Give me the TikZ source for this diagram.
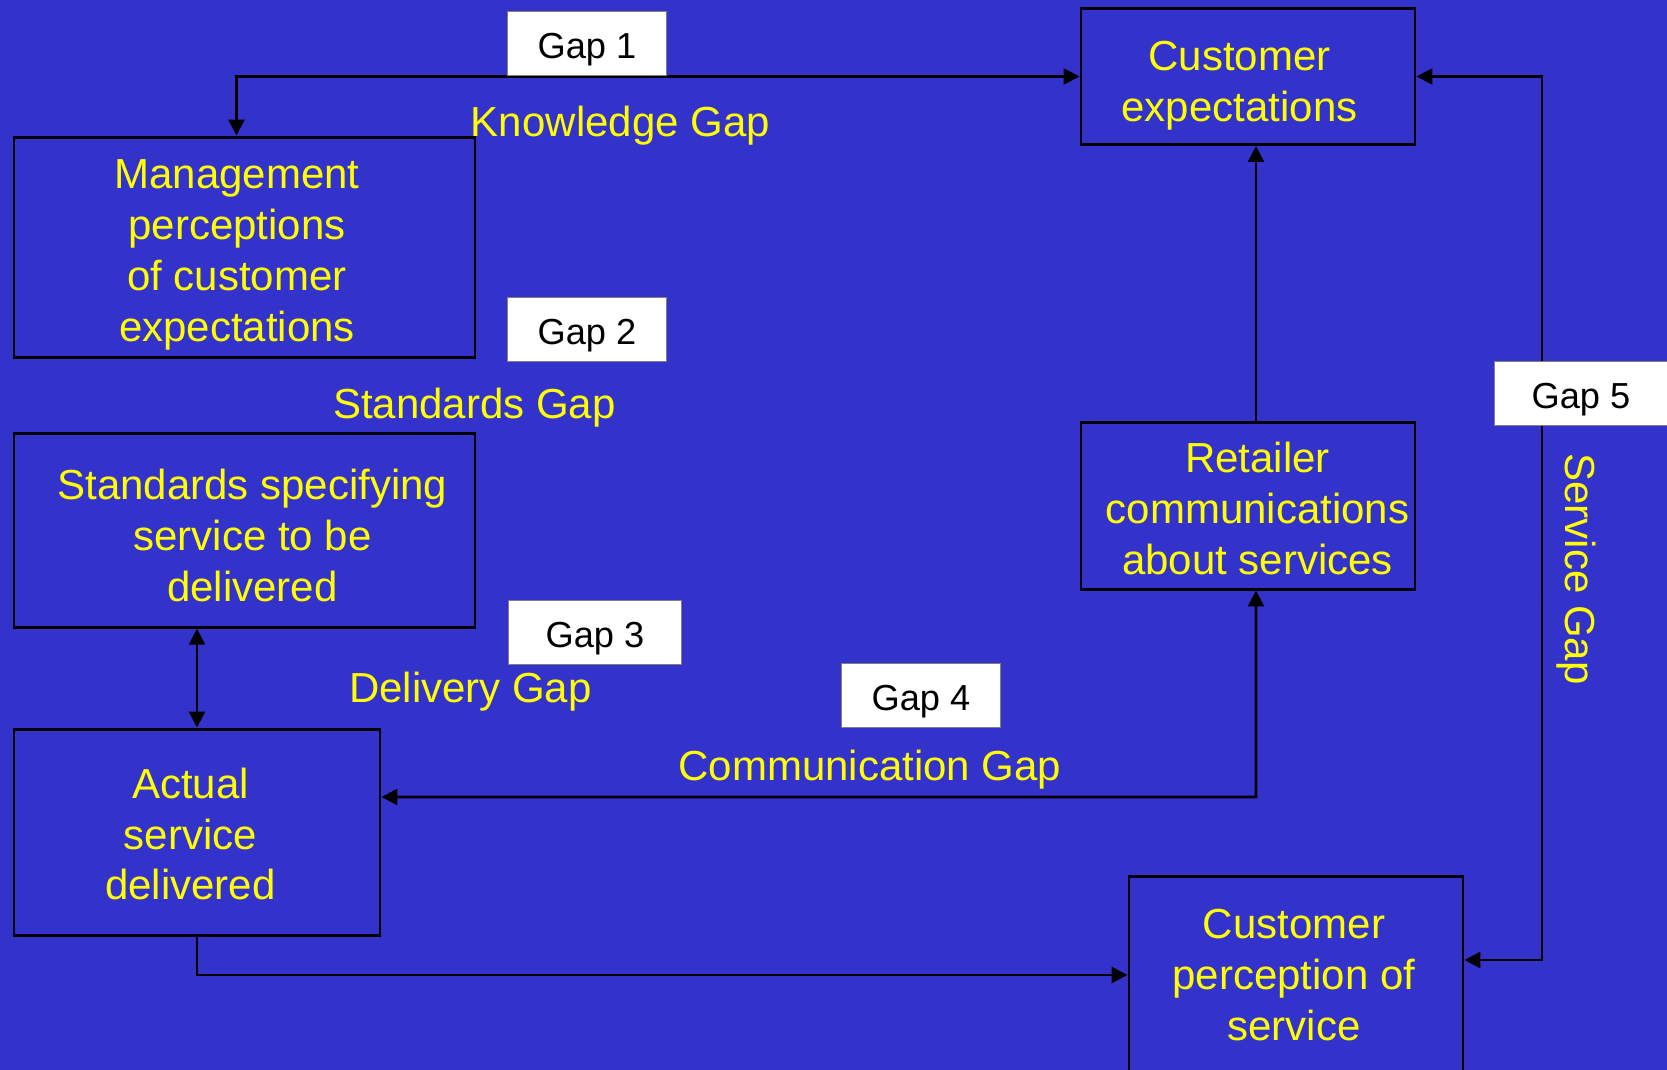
\documentclass[tikz,border=0pt]{standalone}
\usepackage{fontspec}
\setmainfont{Liberation Sans}
\usetikzlibrary{arrows.meta}
\definecolor{slideblue}{HTML}{3333CC}
\definecolor{slideyellow}{HTML}{FFFF00}

\tikzset{
  stage/.style={draw=black, line width=0.85pt, inner sep=0pt},
  stagetext/.style={text=slideyellow, align=center, inner sep=0pt,
    font=\fontsize{11.95}{14.5}\selectfont},
  gapbox/.style={draw=gray, fill=white, line width=0.3pt, minimum height=0.638cm,
    minimum width=1.585cm, inner ysep=1pt, text height=10.6pt, text depth=2.2pt,
    font=\fontsize{10.3}{12}\selectfont},
  gaplabel/.style={text=slideyellow, font=\fontsize{11.95}{14.5}\selectfont, inner sep=0pt},
  link/.style={line width=0.75pt},
}

\begin{document}
\begin{tikzpicture}[>={Triangle[length=4.5pt,width=4.5pt]}]
\fill[slideblue] (0,0) rectangle (16.67,-10.70);
\useasboundingbox (0,0) rectangle (16.67,-10.70);
\clip (0,0) rectangle (16.67,-10.70);

% stages
\node[stage, minimum width=3.34cm, minimum height=1.36cm,
  label={[stagetext, xshift=-0.085cm, yshift=-0.09cm]center:{Customer\\expectations}}] (cexp) at (12.48,-0.765) {};
\node[stage, minimum width=4.61cm, minimum height=2.20cm,
  label={[stagetext, xshift=-0.075cm, yshift=-0.08cm]center:{Management\\perceptions\\of customer\\expectations}}] (mgmt) at (2.445,-2.47) {};
\node[stage, minimum width=4.61cm, minimum height=1.935cm,
  label={[stagetext, xshift=0.08cm, yshift=-0.05cm]center:{Standards specifying\\service to be\\delivered}}] (std) at (2.445,-5.305) {};
\node[stage, minimum width=3.66cm, minimum height=2.06cm,
  label={[stagetext, xshift=-0.065cm, yshift=-0.02cm]center:{Actual\\service\\delivered}}] (act) at (1.97,-8.32) {};
\node[stage, minimum width=3.34cm, minimum height=1.67cm,
  label={[stagetext, xshift=0.095cm, yshift=-0.03cm]center:{Retailer\\communications\\about services}}] (ret) at (12.48,-5.055) {};
\node[stage, minimum width=3.34cm, minimum height=1.98cm,
  label={[stagetext, xshift=-0.02cm]center:{Customer\\perception of\\service}}] (perc) at (12.96,-9.75) {};

\coordinate (c4) at (12.56,-7.97);
\coordinate (c5) at (15.42,-9.60);

% links
\draw[link,<->] (cexp.west) -| ([xshift=-0.08cm]mgmt.north);
\draw[link,<->] (std.south -| act.north) -- (act.north);
\draw[link,->] ([xshift=0.08cm]ret.north) -- ([xshift=0.08cm]ret.north |- cexp.south);
\draw[link,<->] ([xshift=0.08cm]ret.south) -- (c4) -- (act.east |- c4);
\draw[link,->] (act.south) |- (perc.west);
\draw[link,<->] (perc.east |- c5) -- (c5) |- (cexp.east);

% gap names
\node[gaplabel] (kg) at (6.204,-1.255) {Knowledge Gap};
\node[gaplabel] (sg) at (4.743,-4.08) {Standards Gap};
\node[gaplabel] (dg) at (4.704,-6.92) {Delivery Gap};
\node[gaplabel] (cg) at (8.70,-7.70) {Communication Gap};
\node[gaplabel, rotate=-90] (svg) at (15.766,-5.69) {Service Gap};

\node[gapbox] (g1) at (5.87,-0.436) {Gap 1};
\node[gapbox] (g2) at (5.87,-3.296) {Gap 2};
\node[gapbox, minimum width=1.73cm] (g3) at (5.95,-6.325) {Gap 3};
\node[gapbox] (g4) at (9.21,-6.953) {Gap 4};
\node[gapbox, minimum width=1.73cm] (g5) at (15.81,-3.934) {Gap 5};
\end{tikzpicture}
\end{document}
